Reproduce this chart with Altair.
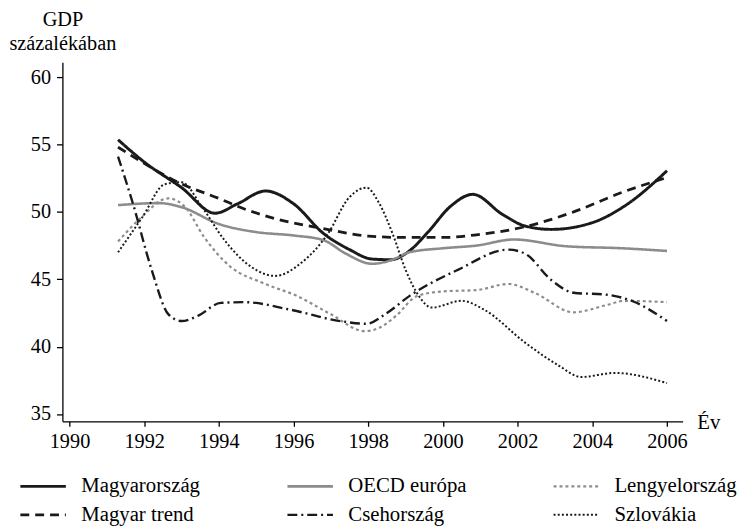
import altair as alt
import pandas as pd

# legend is filled column by column: (col1) Magyarország / Magyar trend, (col2) OECD / Cseh, (col3) Lengyel / Szlovák
series_names = ["Magyarország", "Magyar trend", "OECD európa", "Csehország",
                "Lengyelország", "Szlovákia"]

hu_years = [1991.3, 1992, 1993, 1993.9, 1994.5, 1995.25, 1996, 1996.8, 1997.5, 1998.1,
            1998.6, 1999.1, 1999.6, 2000.2, 2000.8, 2001.6, 2002.2, 2002.9, 2004, 2004.9, 2006]
hu_vals = [55.35, 53.7, 51.8, 49.9, 50.6, 51.55, 50.6, 48.4, 47.2, 46.5,
           46.45, 47.1, 48.5, 50.4, 51.3, 49.8, 48.95, 48.7, 49.2, 50.5, 53.05]

trend_years = [1991.3, 1992, 1992.9, 1994, 1994.7, 1995.5, 1996.8, 1998, 1999, 2000,
               2000.9, 2002.2, 2003.5, 2004.8, 2006]
trend_vals = [54.8, 53.6, 52.2, 51.0, 50.2, 49.5, 48.76, 48.2, 48.1, 48.1,
              48.3, 48.9, 50.0, 51.45, 52.55]

oecd_years = [1991.3, 1992.4, 1993, 1994, 1995, 1996, 1996.8, 1997.4, 1998.1, 1998.6,
              1999.1, 2000, 2000.9, 2001.9, 2003.3, 2004.8, 2006]
oecd_vals = [50.5, 50.65, 50.35, 49.1, 48.5, 48.25, 47.9, 46.9, 46.15, 46.4,
             47.0, 47.3, 47.5, 47.95, 47.45, 47.3, 47.1]

pl_years = [1991.3, 1991.85, 1992.65, 1993.1, 1993.6, 1994.3, 1995.2, 1996.1, 1997, 1997.9,
            1998.3, 1998.75, 1999.3, 2000, 2000.9, 2001.75, 2002.45, 2003.5, 2004.4, 2004.85, 2006]
pl_vals = [47.8, 49.4, 51.0, 50.35, 48.15, 45.95, 44.7, 43.75, 42.4, 41.15,
           41.4, 42.3, 43.75, 44.1, 44.2, 44.65, 44.0, 42.55, 43.1, 43.4, 43.3]

cz_years = [1991.3, 1991.7, 1992.2, 1992.65, 1993, 1993.45, 1994.05, 1994.7, 1995.9, 1997.25,
            1997.95, 1998.5, 1999.1, 2000.4, 2001.75, 2002.2, 2002.9, 2003.5, 2004.4, 2005.1, 2006]
cz_vals = [54.1, 50.6, 45.7, 42.4, 41.9, 42.3, 43.25, 43.3, 42.75, 41.9,
           41.7, 42.5, 43.75, 45.7, 47.2, 46.9, 44.95, 44.0, 43.85, 43.35, 41.9]

sk_years = [1991.3, 1991.95, 1992.55, 1993, 1993.55, 1994.15, 1994.85, 1995.5, 1996.2, 1996.9,
            1997.5, 1997.95, 1998.3, 1998.65, 1999.0, 1999.36, 1999.7, 2000.5, 2001.1, 2002.2,
            2003.1, 2003.7, 2004.6, 2006]
sk_vals = [47.0, 49.6, 52.05, 52.2, 50.35, 47.9, 45.95, 45.25, 46.2, 48.3,
           51.1, 51.8, 50.6, 48.4, 45.7, 43.74, 42.9, 43.4, 42.75, 40.3,
           38.6, 37.75, 38.05, 37.3]

x_ticks = [1990, 1992, 1994, 1996, 1998, 2000, 2002, 2004, 2006]
y_ticks = [35, 40, 45, 50, 55, 60]

rows = []
for name, ys, vs in [("Magyarország", hu_years, hu_vals),
                     ("Magyar trend", trend_years, trend_vals),
                     ("OECD európa", oecd_years, oecd_vals),
                     ("Lengyelország", pl_years, pl_vals),
                     ("Csehország", cz_years, cz_vals),
                     ("Szlovákia", sk_years, sk_vals)]:
    for y, v in zip(ys, vs):
        rows.append({"series": name, "year": y, "value": v})
df = pd.DataFrame(rows)

# same order as series_names
colors = ["#1a1a1a", "#1a1a1a", "#8c8c8c", "#1a1a1a", "#8c8c8c", "#1a1a1a"]
dashes = [[1, 0], [9, 6], [1, 0], [10, 4, 2, 4], [3, 3], [2, 2.2]]
widths = [3, 2, 3.5, 2, 4, 2]

FONT = "Liberation Serif"


def make_legend():
    return alt.Legend(title=None, orient="none", legendX=-48, legendY=418,
                      columns=3, columnPadding=82, rowPadding=7,
                      symbolType="M-1,0H8.2", symbolSize=100,
                      labelFont=FONT, labelFontSize=21, labelColor="black",
                      labelOffset=46, labelLimit=300)


chart = alt.Chart(df).mark_line(interpolate="monotone", strokeCap="butt").encode(
    x=alt.X("year:Q",
            scale=alt.Scale(domain=[1989.81, 2006.42], nice=False, zero=False),
            axis=alt.Axis(values=x_ticks, format="d", title="Év", titleAngle=0,
                          titleX=653, titleY=7, titleAlign="center",
                          titleBaseline="alphabetic", titleFontSize=21,
                          titleFontWeight="normal", tickSize=5, labelPadding=5)),
    y=alt.Y("value:Q",
            scale=alt.Scale(domain=[34.46, 61.1], nice=False, zero=False),
            axis=alt.Axis(values=y_ticks, title=["GDP", "százalékában"], titleAngle=0,
                          titleX=0, titleY=-37, titleAlign="center",
                          titleBaseline="alphabetic", titleFontSize=20.5,
                          titleFontWeight="normal", titleLineHeight=24,
                          tickSize=6, labelPadding=6)),
    color=alt.Color("series:N", scale=alt.Scale(domain=series_names, range=colors),
                    legend=make_legend()),
    strokeDash=alt.StrokeDash("series:N", scale=alt.Scale(domain=series_names, range=dashes),
                              legend=make_legend()),
    strokeWidth=alt.StrokeWidth("series:N", scale=alt.Scale(domain=series_names, range=widths),
                                legend=make_legend()),
    detail="series:N",
).properties(
    width=627, height=363,
    autosize=alt.AutoSizeParams(type="none"),
    padding={"left": 55, "top": 52, "right": 62, "bottom": 107},
).configure_view(stroke=None).configure_axis(
    grid=False, domainColor="black", domainWidth=1.3, tickColor="black", tickWidth=1.3,
    labelFont=FONT, titleFont=FONT, labelFontSize=20.5, labelColor="black",
    titleColor="black",
)

chart.save("out.html", embed_options={"renderer": "svg", "actions": False})
